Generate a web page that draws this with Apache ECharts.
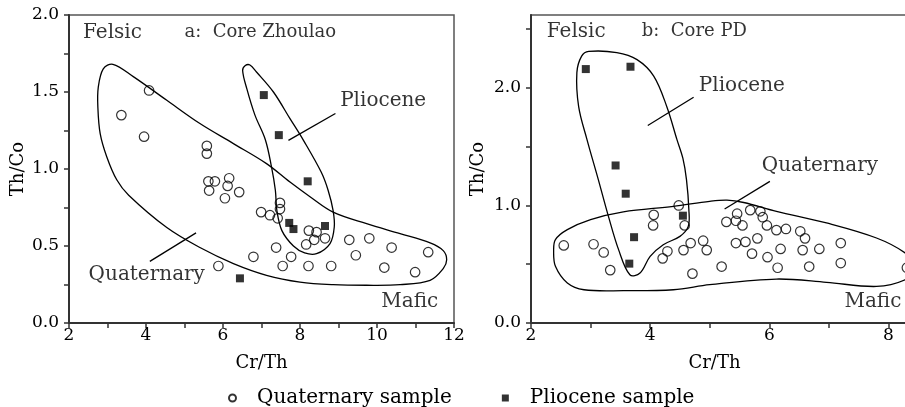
<!DOCTYPE html>
<html lang="en">
<head>
<meta charset="UTF-8">
<title>Th/Co - Cr/Th</title>
<script src="https://cdn.jsdelivr.net/npm/echarts@6/dist/echarts.min.js"></script>
<style>
	html,body{margin:0;padding:0;width:100%;height:100%;background:#fff;}
	#chart{width:905px;height:407px;}
</style>
</head>
<body>
<div id="chart"></div>
<script>
	// ---- panel a: Core Zhoulao ----
	var quatA = [[4.08,1.51],[3.36,1.35],[3.95,1.21],[5.58,1.15],[5.58,1.10],[5.62,0.92],[5.79,0.92],[5.64,0.86],
		[6.16,0.94],[6.12,0.89],[6.42,0.85],[6.05,0.81],[6.99,0.72],[7.22,0.70],[7.48,0.78],[7.48,0.74],[7.42,0.68],
		[8.23,0.60],[8.43,0.59],[8.37,0.54],[8.16,0.51],[8.65,0.55],[9.28,0.54],[9.80,0.55],[10.38,0.49],[11.33,0.46],
		[9.45,0.44],[10.19,0.36],[10.99,0.33],[8.81,0.37],[8.22,0.37],[7.77,0.43],[7.55,0.37],[7.38,0.49],[6.79,0.43],[5.88,0.37]];
	var plioA = [[7.06,1.48],[7.45,1.22],[8.20,0.92],[7.72,0.65],[7.83,0.61],[8.65,0.63],[6.44,0.29]];

	// hand drawn sample fields (closed outlines)
	var quatZoneA = [[11.81,0.41],[11.72,0.47],[11.38,0.52],[10.6,0.58],[9.73,0.645],[8.86,0.72],[8.26,0.82],[7.74,0.915],
		[7.13,1.035],[6.27,1.165],[5.4,1.295],[4.54,1.446],[3.67,1.60],[3.14,1.68],[2.89,1.65],[2.76,1.53],[2.75,1.40],
		[2.81,1.23],[2.98,1.08],[3.24,0.93],[3.55,0.83],[4.54,0.62],[5.4,0.49],[6.27,0.386],[7.13,0.31],[8.0,0.266],
		[8.86,0.249],[9.73,0.245],[10.6,0.249],[11.38,0.277],[11.72,0.353]];
	var plioZoneA = [[6.58,1.672],[6.51,1.64],[6.62,1.52],[6.83,1.35],[7.10,1.19],[7.26,1.013],[7.36,0.862],[7.40,0.73],
		[7.53,0.60],[7.83,0.50],[8.12,0.455],[8.43,0.45],[8.78,0.516],[8.89,0.623],[8.86,0.73],[8.73,0.862],[8.55,0.98],
		[8.09,1.186],[7.74,1.327],[7.31,1.50],[6.87,1.63],[6.70,1.675]];
	var leadersA = [[[4.10,0.40],[5.30,0.585]], [[7.70,1.186],[8.92,1.36]]];
	var notesA = [['Felsic',3.13,1.886],['a:  Core Zhoulao',5.0,1.886,'left'],['Pliocene',10.16,1.446],
		['Quaternary',4.02,0.31],['Mafic',10.85,0.136]];

	// ---- panel b: Core PD ----
	var quatB = [[2.55,0.66],[3.05,0.67],[3.22,0.60],[3.33,0.45],[4.06,0.92],[4.05,0.83],[4.48,1.00],[4.58,0.83],
		[4.21,0.55],[4.29,0.61],[4.56,0.62],[4.68,0.68],[4.71,0.42],[4.89,0.70],[4.95,0.62],[5.20,0.48],[5.28,0.86],
		[5.46,0.93],[5.44,0.87],[5.55,0.83],[5.44,0.68],[5.60,0.69],[5.71,0.59],[5.68,0.96],[5.85,0.95],[5.89,0.90],
		[5.96,0.83],[5.80,0.72],[5.97,0.56],[6.12,0.79],[6.28,0.80],[6.19,0.63],[6.14,0.47],[6.52,0.78],[6.60,0.72],
		[6.56,0.62],[6.67,0.48],[6.84,0.63],[7.20,0.68],[7.20,0.51],[8.31,0.47]];
	var plioB = [[2.92,2.16],[3.67,2.18],[3.42,1.34],[3.59,1.10],[3.73,0.73],[3.65,0.505],[4.55,0.913]];

	var plioZoneB = [[3.66,0.41],[3.83,0.425],[4.0,0.567],[4.22,0.666],[4.50,0.737],[4.64,0.822],[4.65,0.964],[4.61,1.22],
		[4.55,1.40],[4.45,1.56],[4.28,1.84],[4.06,2.10],[3.78,2.24],[3.44,2.30],[2.97,2.31],[2.85,2.27],[2.77,2.13],
		[2.80,1.84],[2.94,1.56],[3.13,1.22],[3.30,0.907],[3.47,0.624]];
	var quatZoneB = [[2.38,0.61],[2.41,0.709],[2.61,0.794],[3.0,0.879],[3.55,0.945],[4.39,0.992],[5.0,1.035],[5.29,1.045],
		[5.57,1.025],[6.12,0.95],[6.96,0.851],[7.80,0.723],[8.28,0.596],[8.5,0.47],[8.28,0.368],[7.80,0.311],[6.96,0.346],
		[6.12,0.374],[5.0,0.326],[4.39,0.283],[3.55,0.275],[2.89,0.283],[2.61,0.34],[2.41,0.482]];
	var leadersB = [[[3.96,1.68],[4.73,1.92]], [[6.01,1.205],[5.25,0.97]]];
	var notesB = [['Felsic',2.76,2.48],['b:  Core PD',3.86,2.48,'left'],['Pliocene',5.54,2.02],
		['Quaternary',6.85,1.333],['Mafic',7.74,0.184]];

	// ticks and labels
	var xTicksA = [2,3,4,5,6,7,8,9,10,11,12];
	var xLabelsA = [2,4,6,8,10,12];
	var yTicksA = [0,0.25,0.5,0.75,1,1.25,1.5,1.75,2];
	var yLabelsA = [0,0.5,1,1.5,2];
	var xTicksB = [2,3,4,5,6,7,8,9];
	var xLabelsB = [2,4,6,8];
	var yTicksB = [0,0.5,1,1.5,2,2.5];
	var yLabelsB = [0,1,2];

	var FONT = 'DejaVu Serif';
	var INK = '#000';

	function xAxis(idx, min, max, ticks, labels, namePad) {
		return {
			type: 'value', gridIndex: idx, min: min, max: max,
			name: 'Cr/Th', nameLocation: 'middle', nameGap: 31,
			nameTextStyle: {fontFamily: FONT, fontSize: 18, color: INK, padding: namePad},
			axisLine: {lineStyle: {color: '#333', width: 2}},
			axisTick: {customValues: ticks, length: 5, lineStyle: {color: '#333', width: 1.5}},
			axisLabel: {customValues: labels, margin: 4, fontFamily: FONT, fontSize: 17, color: INK},
			splitLine: {show: false}
		};
	}
	function yAxis(idx, min, max, ticks, labels, gap) {
		return {
			type: 'value', gridIndex: idx, min: min, max: max,
			name: 'Th/Co', nameLocation: 'middle', nameGap: gap,
			nameTextStyle: {fontFamily: FONT, fontSize: 18, color: INK},
			axisLine: {lineStyle: {color: '#333', width: 2}},
			axisTick: {customValues: ticks, length: 5, lineStyle: {color: '#333', width: 1.5}},
			axisLabel: {customValues: labels, margin: 10, fontFamily: FONT, fontSize: 17, color: INK,
				formatter: function (v) { return v.toFixed(1); }},
			splitLine: {show: false}
		};
	}

	// closed smooth outline, points mapped through the axes
	function zone(idx, pts) {
		return {type: 'custom', xAxisIndex: idx, yAxisIndex: idx, data: [[pts[0][0], pts[0][1]]], silent: true, z: 1,
			renderItem: function (params, api) {
				var px = [];
				for (var i = 0; i < pts.length; i++) px.push(api.coord(pts[i]));
				return {type: 'polygon', shape: {points: px, smooth: 0.35},
					style: {fill: 'none', stroke: '#000', lineWidth: 1.3}};
			}};
	}
	function leader(idx, pts) {
		return {type: 'line', xAxisIndex: idx, yAxisIndex: idx, data: pts, showSymbol: false, silent: true,
			lineStyle: {color: '#000', width: 1.3}, z: 1};
	}
	function notes(idx, arr) {
		var data = [];
		for (var i = 0; i < arr.length; i++) {
			var item = {name: arr[i][0], value: [arr[i][1], arr[i][2]]};
			if (arr[i][3] == 'left') item.label = {position: 'right', distance: 0, fontSize: 18};
			data.push(item);
		}
		return {type: 'scatter', xAxisIndex: idx, yAxisIndex: idx, data: data, symbolSize: 0, silent: true,
			label: {show: true, position: 'inside', formatter: '{b}', fontFamily: FONT, fontSize: 20, color: INK}};
	}
	function quat(idx, pts) {
		return {name: 'Quaternary sample', type: 'scatter', xAxisIndex: idx, yAxisIndex: idx, data: pts,
			symbol: 'circle', symbolSize: 9.5, z: 3, clip: false,
			itemStyle: {color: 'rgba(0,0,0,0)', borderColor: '#000', borderWidth: 1.2}};
	}
	function plio(idx, pts) {
		return {name: 'Pliocene sample', type: 'scatter', xAxisIndex: idx, yAxisIndex: idx, data: pts,
			symbol: 'rect', symbolSize: 8, z: 4, clip: false, itemStyle: {color: '#000'}};
	}

	var series = [
		zone(0, quatZoneA), zone(0, plioZoneA), leader(0, leadersA[0]), leader(0, leadersA[1]),
		zone(1, quatZoneB), zone(1, plioZoneB), leader(1, leadersB[0]), leader(1, leadersB[1]),
		quat(0, quatA), plio(0, plioA), quat(1, quatB), plio(1, plioB),
		notes(0, notesA), notes(1, notesB)
	];

	var myChart = echarts.init(document.getElementById('chart'), null, {renderer: 'canvas'});
	myChart.setOption({
		animation: false,
		textStyle: {fontFamily: FONT},
		grid: [
			{left: 69, right: 451, top: 15, bottom: 84, outerBoundsMode: 'none',
				show: true, borderColor: '#555', borderWidth: 1.5},
			{left: 531, width: 417, top: 15, bottom: 84, outerBoundsMode: 'none',
				show: true, borderColor: '#555', borderWidth: 1.5}
		],
		xAxis: [
			xAxis(0, 2, 12, xTicksA, xLabelsA, 0),
			xAxis(1, 2, 9, xTicksB, xLabelsB, [0, 50, 0, 0])
		],
		yAxis: [
			yAxis(0, 0, 2, yTicksA, yLabelsA, 42),
			yAxis(1, 0, 2.62, yTicksB, yLabelsB, 44)
		],
		legend: {
			data: ['Quaternary sample', 'Pliocene sample'], left: 223, top: 383,
			itemWidth: 7, itemHeight: 7, itemGap: 50, selectedMode: false,
			textStyle: {fontFamily: FONT, fontSize: 20, color: INK, padding: [0, 0, 0, 16]}
		},
		series: series
	});
</script>
</body>
</html>
